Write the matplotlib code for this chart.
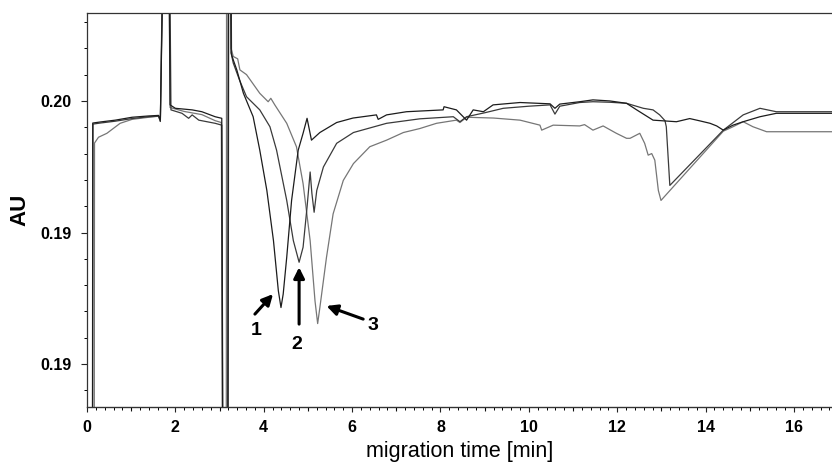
import numpy as np
import matplotlib
matplotlib.use("Agg")
import matplotlib.pyplot as plt
from matplotlib.ticker import MultipleLocator, FixedLocator

plt.rcParams['font.family'] = ['Liberation Sans', 'DejaVu Sans']

# electropherogram traces (time in min, absorbance in AU)
# values outside the y-range stand for the off-scale jumps
t1 = [0.00, 0.12, 0.13, 0.30, 0.64, 1.02, 1.40, 1.62, 1.66, 1.77, 1.84, 1.88, 2.00, 2.38, 2.60,
      2.90, 3.05, 3.08, 3.18, 3.20, 3.24, 3.26, 3.31, 3.39, 3.54, 3.76, 3.91, 4.07, 4.22, 4.33,
      4.39, 4.44, 4.52, 4.63, 4.78, 4.89, 4.98, 5.08, 5.27, 5.65, 6.02, 6.55, 6.59, 6.78, 7.23,
      8.06, 8.08, 8.36, 8.59, 8.74, 8.97, 9.19, 9.80, 10.48, 10.59, 10.70, 11.15, 11.45, 11.83,
      12.21, 12.44, 12.81, 13.34, 13.64, 13.85, 14.10, 14.25, 14.40, 14.62, 14.85, 15.23, 15.60,
      16.86]
v1 = [0.180, 0.180, 0.19916, 0.19920, 0.19927, 0.19938, 0.19943, 0.19945, 0.19927, 0.210, 0.210,
      0.19985, 0.19972, 0.19966, 0.19959, 0.19940, 0.19934, 0.180, 0.180, 0.210, 0.210, 0.20182,
      0.20156, 0.20118, 0.20029, 0.19940, 0.19813, 0.19660, 0.19469, 0.19279, 0.19215, 0.19266,
      0.19406, 0.19622, 0.19813, 0.19877, 0.19934, 0.19851, 0.19880, 0.19918, 0.19935, 0.19947,
      0.19930, 0.19947, 0.19959, 0.19966, 0.19978, 0.19966, 0.19927, 0.19966, 0.19959, 0.19985,
      0.19994, 0.19989, 0.19972, 0.19988, 0.19997, 0.20004, 0.20000, 0.19991, 0.19966, 0.19927,
      0.19921, 0.19933, 0.19925, 0.19915, 0.19905, 0.19889, 0.19908, 0.19921, 0.19940, 0.19953,
      0.19953]

t2 = [0.00, 0.12, 0.135, 0.30, 0.64, 1.02, 1.40, 1.62, 1.66, 1.76, 1.85, 1.90, 2.15, 2.30, 2.38,
      2.53, 2.90, 3.05, 3.09, 3.19, 3.21, 3.25, 3.27, 3.31, 3.45, 3.61, 3.91, 4.14, 4.29, 4.52,
      4.67, 4.80, 4.89, 4.98, 5.05, 5.09, 5.14, 5.20, 5.35, 5.65, 6.03, 6.78, 7.53, 8.29, 8.44,
      8.59, 9.00, 9.42, 10.00, 10.48, 10.59, 10.70, 11.15, 11.45, 11.83, 12.21, 12.59, 12.81,
      12.96, 13.08, 13.11, 13.19, 14.40, 14.85, 15.23, 15.60, 16.86]
v2 = [0.180, 0.180, 0.19912, 0.19916, 0.19923, 0.19933, 0.19940, 0.19942, 0.19922, 0.210, 0.210,
      0.19966, 0.19953, 0.19934, 0.19947, 0.19927, 0.19915, 0.19908, 0.180, 0.180, 0.210, 0.210,
      0.20175, 0.20144, 0.20080, 0.20016, 0.19966, 0.19902, 0.19813, 0.19622, 0.19469, 0.19387,
      0.19444, 0.19597, 0.19730, 0.19648, 0.19577, 0.19660, 0.19749, 0.19839, 0.19880, 0.19915,
      0.19932, 0.19940, 0.19921, 0.19940, 0.19955, 0.19972, 0.19980, 0.19985, 0.19950, 0.19980,
      0.19994, 0.19997, 0.19995, 0.19991, 0.19972, 0.19966, 0.19947, 0.19925, 0.19902, 0.19679,
      0.19889, 0.19947, 0.19972, 0.19959, 0.19959]

t3 = [0.00, 0.16, 0.17, 0.26, 0.45, 0.75, 1.02, 1.40, 1.62, 1.66, 1.75, 1.83, 1.88, 2.20, 2.60,
      2.90, 3.04, 3.08, 3.15, 3.16, 3.23, 3.26, 3.31, 3.41, 3.46, 3.61, 3.91, 4.10, 4.16, 4.25,
      4.52, 4.74, 4.89, 5.05, 5.16, 5.22, 5.27, 5.42, 5.57, 5.80, 6.03, 6.40, 6.78, 7.16, 7.53,
      7.91, 8.36, 8.44, 8.59, 9.20, 9.80, 10.25, 10.29, 10.55, 11.15, 11.26, 11.45, 11.68, 11.98,
      12.21, 12.29, 12.51, 12.62, 12.70, 12.78, 12.85, 12.93, 12.99, 14.40, 14.62, 14.85, 15.07,
      15.38, 16.86]
v3 = [0.180, 0.180, 0.19840, 0.19862, 0.19877, 0.19915, 0.19930, 0.19938, 0.19942, 0.19922, 0.210,
      0.210, 0.19975, 0.19960, 0.19948, 0.19925, 0.19918, 0.180, 0.180, 0.210, 0.210, 0.20200,
      0.20169, 0.20160, 0.20118, 0.20100, 0.20029, 0.19997, 0.20010, 0.19985, 0.19915, 0.19826,
      0.19686, 0.19469, 0.19240, 0.19154, 0.19215, 0.19406, 0.19571, 0.19698, 0.19762, 0.19826,
      0.19851, 0.19880, 0.19895, 0.19915, 0.19927, 0.19918, 0.19938, 0.19935, 0.19927, 0.19908,
      0.19889, 0.19908, 0.19905, 0.19910, 0.19889, 0.19905, 0.19877, 0.19858, 0.19858, 0.19877,
      0.19839, 0.19794, 0.19800, 0.19775, 0.19660, 0.19622, 0.19885, 0.19902, 0.19921, 0.19902,
      0.19883, 0.19883]

# peak labels: (label, arrow tail, arrow head, text position)
peak_labels = ['1', '2', '3']
arrow_tails = [(3.80, 0.19190), (4.80, 0.19152), (6.25, 0.19171)]
arrow_heads = [(4.21, 0.19266), (4.80, 0.19368), (5.42, 0.19221)]
label_pos = [(3.82, 0.19126), (4.75, 0.19076), (6.47, 0.19145)]

y_ticks = [0.190, 0.195, 0.200]
y_ticklabels = ['0.19', '0.19', '0.20']

fig = plt.figure(figsize=(8.32, 4.66), dpi=100)
ax = fig.add_axes([87 / 832, 59 / 466, 745 / 832, 393.7 / 466])

ax.plot(t3, v3, color='#767676', lw=0.9)
ax.plot(t2, v2, color='#3a3a3a', lw=0.9)
ax.plot(t1, v1, color='#1c1c1c', lw=0.9)

for lab, tail, head, pos in zip(peak_labels, arrow_tails, arrow_heads, label_pos):
    ax.annotate('', xy=head, xytext=tail,
                arrowprops=dict(arrowstyle='-|>', lw=2.2, color='black',
                                mutation_scale=16, shrinkA=0, shrinkB=0))
    ax.text(pos[0], pos[1], lab, fontsize=14, fontweight='bold',
            ha='center', va='center')

ax.set_xlim(0, 16.86)
ax.set_ylim(0.18837, 0.20333)

ax.set_xticks(np.arange(0, 17, 2))
ax.xaxis.set_minor_locator(MultipleLocator(0.2))
ax.set_yticks(y_ticks)
ax.set_yticklabels(y_ticklabels)
ax.yaxis.set_minor_locator(MultipleLocator(0.001))

ax.tick_params(axis='x', which='major', direction='out', length=3.6, width=0.8, pad=5.5,
               labelsize=11.5, colors='#222222')
ax.tick_params(axis='x', which='minor', direction='out', length=1.8, width=0.7)
ax.tick_params(axis='y', which='major', direction='out', length=4.3, width=0.8, pad=7,
               labelsize=11.5, colors='#222222')
ax.tick_params(axis='y', which='minor', direction='out', length=2.0, width=0.7)
for lbl in ax.get_xticklabels() + ax.get_yticklabels():
    lbl.set_fontweight('bold')
    lbl.set_color('black')

# medium ticks at odd minutes
sec = ax.secondary_xaxis('bottom')
sec.xaxis.set_major_locator(FixedLocator(np.arange(1, 17, 2)))
sec.set_xticklabels([])
sec.tick_params(axis='x', direction='out', length=2.6, width=0.8, colors='#222222')

ax.spines['right'].set_visible(False)
for s in ['left', 'bottom', 'top']:
    ax.spines[s].set_color('#333333')
    ax.spines[s].set_linewidth(0.9)

ax.set_ylabel('AU', fontsize=16, fontweight='bold')
ax.yaxis.set_label_coords(-0.0765, 0.5)
ax.set_xlabel('migration time [min]', fontsize=15.5)
ax.xaxis.set_label_coords(0.5, -0.0863)

fig.savefig('out.png', dpi=100)
